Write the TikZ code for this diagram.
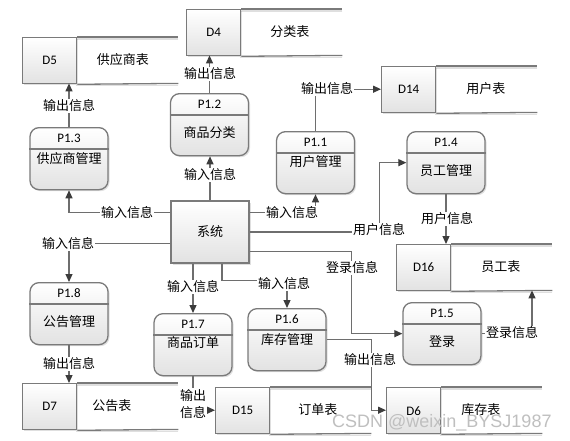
\documentclass[tikz,border=0pt]{standalone}
\usepackage{fontspec}
\setmainfont{Carlito}
\newfontfamily\cjk{Noto Sans CJK SC}
\newfontfamily\wmfont{Liberation Sans}
\usetikzlibrary{arrows.meta,calc,shadows}
\definecolor{linec}{HTML}{6E6E6E}
\definecolor{boxc}{HTML}{7A7A7A}
\definecolor{tipc}{HTML}{3C3C3C}
\definecolor{fillb}{HTML}{E2E2E2}
\tikzset{
 boxline/.style={draw=boxc, line width=1.3pt},
 shad/.style={drop shadow={shadow xshift=1.5pt, shadow yshift=-1.5pt, opacity=0.25}},
 procbox/.style={boxline, shad, rounded corners=9pt, minimum width=78pt, minimum height=62pt, top color=white, bottom color=fillb, inner sep=0},
 sysbox/.style={boxline, shad, minimum width=78pt, minimum height=62pt, top color=white, bottom color=fillb, inner sep=0, font=\cjk\fontsize{13}{17}\selectfont},
 idbox/.style={boxline, shad, minimum width=54pt, minimum height=46pt, top color=white, bottom color=fillb, inner sep=0, font=\fontsize{13}{15}\selectfont},
 idtxt/.style={font=\fontsize{13}{15}\selectfont, inner sep=0},
 cntxt/.style={font=\cjk\fontsize{13}{17}\selectfont, inner sep=0.5pt},
 lbl/.style={cntxt, fill=white, inner sep=1pt, align=center},
 storeghost/.style={minimum width=156pt, minimum height=46pt, inner sep=0, anchor=north west},
 shline/.style={draw=gray!25, line width=1.5pt},
 flow/.style={draw=linec, line width=1.2pt, -{Triangle[length=8pt,width=7pt,color=tipc]}},
}
\newcommand\store[6]{%
 \node[storeghost] (#1) at (#2,#3) {};
 \draw[shline] ($(#1.north east)+(0,2)$) -- ($(#1.north west)+(54,2)$);
 \draw[shline] ($(#1.south east)+(0,2)$) -- ($(#1.south west)+(54,2)$);
 \node[idbox, anchor=north west] (#1i) at (#2,#3) {#4};
 \draw[boxline] (#1i.north east) -- (#1.north east);
 \draw[boxline] (#1i.south east) -- (#1.south east);
 \node[cntxt] (#1t) at ($(#1i.east)!0.5!(#1.east)+(#6,-1)$) {#5};
}
\newcommand\proc[6]{%
 \node[procbox, anchor=north] (#1) at (#2,#3) {};
 \draw[boxline] ($(#1.north west)+(0,22)$) -- ($(#1.north east)+(0,22)$);
 \node[idtxt] (#1h) at ($(#1.north)+(0,11.5)$) {#4};
 \node[cntxt] (#1b) at ($(#1.north)+(0,#6)$) {#5};
}
\begin{document}
\begin{tikzpicture}[x=1pt,y=-1pt]
\fill[white] (0,0) rectangle (570,440);
\useasboundingbox (0,0) rectangle (570,440);
% data stores
\store{d5}{22}{37}{D5}{供应商表}{-5}
\store{d4}{186}{9}{D4}{分类表}{-2}
\store{d14}{381}{66}{D14}{用户表}{-1}
\store{d16}{396}{244}{D16}{员工表}{-1}
\store{d7}{22}{383}{D7}{公告表}{-16}
\store{d15}{215}{387}{D15}{订单表}{-3}
\store{d6}{386}{387}{D6}{库存表}{-11}
% processes
\proc{p13}{69}{127}{P1.3}{供应商管理}{32}
\proc{p12}{209.5}{93}{P1.2}{商品分类}{40}
\proc{p11}{315.5}{131}{P1.1}{用户管理}{31}
\proc{p14}{446}{131}{P1.4}{员工管理}{40}
\proc{p18}{69}{282}{P1.8}{公告管理}{40}
\proc{p17}{193}{313}{P1.7}{商品订单}{30}
\proc{p16}{287}{308}{P1.6}{库存管理}{32}
\proc{p15}{442}{302}{P1.5}{登录}{40}
% system
\node[sysbox] (sys) at (210,232) {系统};
% connectors
\draw[flow] (p13.north) -- (p13.north |- d5.south);
\draw[flow] (p12.north) -- (p12.north |- d4.south);
\draw[flow] (p11.north) |- (d14.west);
\draw[flow] ($(sys.north west)+(0,12)$) -| (p13.south);
\draw[flow] ($(sys.north west)+(0,43)$) -| (p18.north);
\draw[flow] (sys.north) -- (sys.north |- p12.south);
\draw[flow] ($(sys.north east)+(0,12)$) -| (p11.south);
\draw[flow] (sys.east) -- ++(130,0) |- (p14.west);
\draw[flow] (p14.south) -- (p14.south |- d16.north);
\draw[flow] ($(sys.south east)+(0,-12)$) -- ++(102,0) |- (p15.west);
\draw[flow] (p15.east) -| ($(d16.south west)+(136,0)$);
\draw[flow] (p17.north |- sys.south) -- (p17.north);
\draw[flow] ($(sys.south)+(12,0)$) -- ++(0,17) -| (p16.north);
\draw[flow] (p18.south) -- (p18.south |- d7.north);
\draw[flow] (p17.south) |- (d15.west);
\draw[flow] (p16.east) -- ++(45,0) |- (d6.west);
% labels
\node[lbl] (l1) at (69,106) {输出信息};
\node[lbl] (l2) at (210,74) {输出信息};
\node[lbl] (l3) at (327,89) {输出信息};
\node[lbl] (l4) at (127,213) {输入信息};
\node[lbl] (l5) at (210,175) {输入信息};
\node[lbl] (l6) at (292,213) {输入信息};
\node[lbl] (l7) at (379,230) {用户信息};
\node[lbl] (l8) at (447,219) {用户信息};
\node[lbl] (l9) at (352,268) {登录信息};
\node[lbl] (l10) at (512,333) {登录信息};
\node[lbl] (l11) at (68,244) {输入信息};
\node[lbl] (l12) at (193,287) {输入信息};
\node[lbl] (l13) at (284,284) {输入信息};
\node[lbl] (l14) at (69,364) {输出信息};
\node[lbl, font=\cjk\fontsize{13}{17}\selectfont] (l15) at (193,404) {输出\\信息};
\node[lbl] (l16) at (370,360) {输出信息};
% watermark
\node[font=\wmfont\fontsize{18}{20}\selectfont, text=gray!50, anchor=west, inner sep=0] (wm) at (332,423) {CSDN @weixin\_BYSJ1987};
\end{tikzpicture}
\end{document}
